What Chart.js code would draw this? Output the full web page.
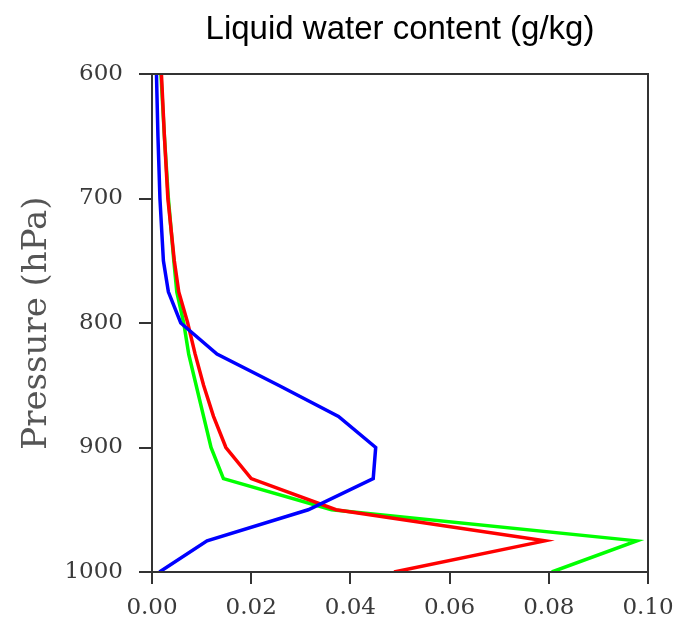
<!DOCTYPE html>
<html>
<head>
<meta charset="utf-8">
<script src="https://cdn.jsdelivr.net/npm/chart.js@4"></script>
<style>
  html, body { margin: 0; padding: 0; background: #fff; }
  #wrap { width: 680px; height: 623px; }
</style>
</head>
<body>
<div id="wrap"><canvas id="lwc"></canvas></div>
<script>
// pressure levels (hPa) and liquid water content (g/kg) per run
const levels = [600, 650, 700, 750, 775, 800, 825, 850, 875, 900, 925, 950, 975, 1000];
const lwcBlue  = [0.0009, 0.0012, 0.0016, 0.0023, 0.0033, 0.0058, 0.0131, 0.0255, 0.0376, 0.0451, 0.0446, 0.0315, 0.0111, 0.0015];
const lwcRed   = [0.0019, 0.0025, 0.0032, 0.0045, 0.0054, 0.0072, 0.0087, 0.0104, 0.0124, 0.0149, 0.0200, 0.0371, 0.0792, 0.0488];
const lwcGreen = [0.0018, 0.0025, 0.0033, 0.0044, 0.0050, 0.0064, 0.0074, 0.0089, 0.0104, 0.0119, 0.0144, 0.0362, 0.0977, 0.0806];
const xTicks = [0, 0.02, 0.04, 0.06, 0.08, 0.10];
const yTicks = [600, 700, 800, 900, 1000];
const titleText = 'Liquid water content (g/kg)';

const toPoints = vals => vals.map((v, i) => ({ x: v, y: levels[i] }));

const axisCol = '#333';
const labelCol = '#3a3a3a';

// box around the plot area + title centred over it
const frame = {
  id: 'frame',
  afterDatasetsDraw(chart) {
    const a = chart.chartArea, c = chart.ctx;
    c.save();
    c.strokeStyle = axisCol;
    c.lineWidth = 2;
    c.strokeRect(a.left, a.top, a.right - a.left, a.bottom - a.top);
    c.restore();
  },
  afterDraw(chart) {
    const a = chart.chartArea, c = chart.ctx;
    c.save();
    c.fillStyle = '#000';
    c.font = '33px "Liberation Sans"';
    c.textAlign = 'center';
    c.textBaseline = 'alphabetic';
    c.fillText(titleText, (a.left + a.right) / 2, 39);
    c.restore();
  }
};

new Chart(document.getElementById('lwc'), {
  type: 'scatter',
  data: {
    datasets: [
      { data: toPoints(lwcBlue),  borderColor: '#0000ff' },
      { data: toPoints(lwcRed),   borderColor: '#ff0000' },
      { data: toPoints(lwcGreen), borderColor: '#00ff00' }
    ].map(d => Object.assign(d, {
      showLine: true, borderWidth: 3.5, pointRadius: 0, fill: false, tension: 0
    }))
  },
  options: {
    responsive: true,
    maintainAspectRatio: false,
    animation: false,
    layout: { padding: { top: 74, right: 32, bottom: 0, left: 0 } },
    plugins: {
      legend: { display: false },
      tooltip: { enabled: false },
      title: { display: false }
    },
    scales: {
      x: {
        type: 'linear',
        min: 0, max: 0.1,
        afterBuildTicks: s => { s.ticks = xTicks.map(v => ({ value: v })); },
        afterFit: s => { s.height = 51; s.paddingLeft = 0; s.paddingRight = 0; },
        border: { display: false },
        grid: { drawOnChartArea: false, drawTicks: true, tickLength: 12, color: axisCol, lineWidth: 2 },
        ticks: {
          color: labelCol,
          padding: 10,
          font: { family: 'DejaVu Serif', size: 23 },
          callback: v => v.toFixed(2)
        }
      },
      y: {
        type: 'linear',
        reverse: true,
        min: 600, max: 1000,
        afterBuildTicks: s => { s.ticks = yTicks.map(v => ({ value: v })); },
        afterFit: s => { s.width = 152; s.paddingTop = 0; s.paddingBottom = 0; },
        border: { display: false },
        grid: { drawOnChartArea: false, drawTicks: true, tickLength: 13, color: axisCol, lineWidth: 2 },
        ticks: {
          color: labelCol,
          padding: 16,
          font: { family: 'DejaVu Serif', size: 23 },
          callback: v => String(v)
        },
        title: {
          display: true,
          text: 'Pressure (hPa)',
          color: '#555',
          padding: { top: 17, bottom: 0 },
          font: { family: 'DejaVu Serif', size: 34 }
        }
      }
    }
  },
  plugins: [frame]
});
</script>
</body>
</html>
